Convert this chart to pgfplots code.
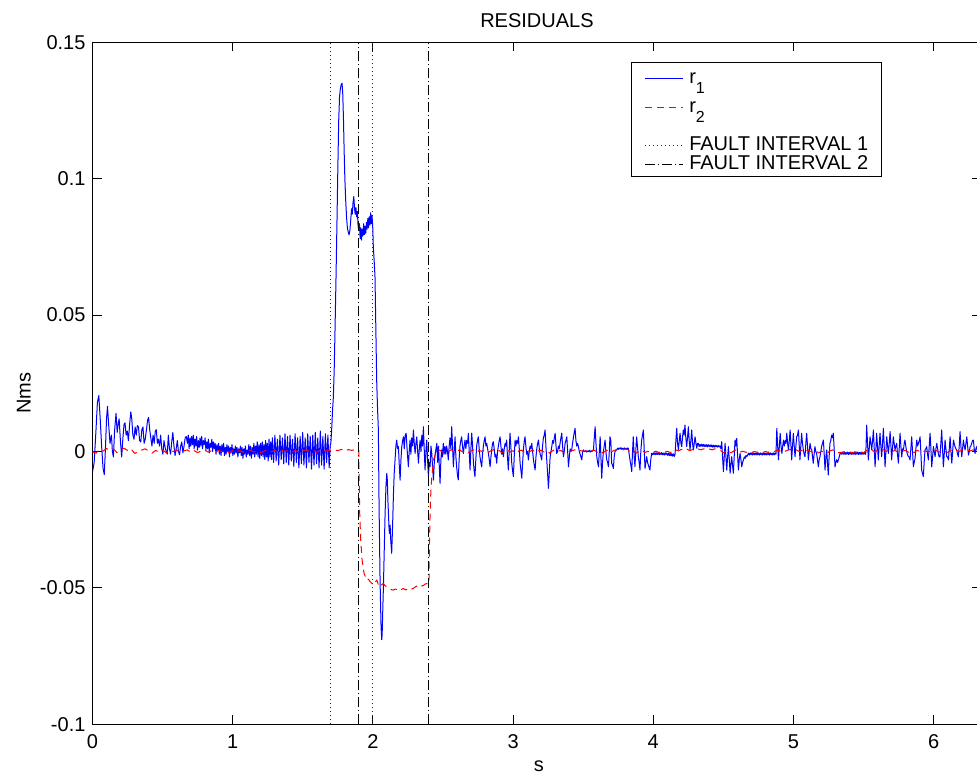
\documentclass[border=0pt]{standalone}
\usepackage{fontspec}
\setmainfont{Liberation Sans}
\usepackage{pgfplots}
\pgfplotsset{compat=1.18}
\begin{document}
\fontsize{10}{12}\selectfont
\begin{tikzpicture}
\begin{axis}[
  scale only axis,
  width=444.43pt, height=341pt,
  xmin=0, xmax=6.34, ymin=-0.1, ymax=0.15,
  xtick={0,1,2,3,4,5,6}, xticklabels={0,1,2,3,4,5,6},
  ytick={-0.1,-0.05,0,0.05,0.1,0.15}, yticklabels={-0.1,-0.05,0,0.05,0.1,0.15},
  tick align=inside, major tick length=4.5pt,
  tick style={black, line width=0.5pt},
  axis line style={black, line width=0.5pt},
  tick label style={font=\fontsize{10}{12}\selectfont},
  xticklabel style={anchor=base, yshift=-11.85pt},
  title={RESIDUALS},
  every axis title/.style={at={(axis description cs:0.5,1.0224)}, anchor=base, font=\fontsize{10}{12}\selectfont},
  xlabel={s},
  every axis x label/.style={at={(axis description cs:0.5023,-0.0699)}, anchor=base, font=\fontsize{10}{12}\selectfont},
  ylabel={Nms},
  every axis y label/.style={at={(axis description cs:-0.0771,0.4858)}, rotate=90, anchor=center, font=\fontsize{10}{12}\selectfont},
  legend style={at={(axis description cs:0.8879,0.9707)}, anchor=north east, draw=black, line width=0.5pt, fill=white,
    inner xsep=6.5pt, inner ysep=0pt, row sep=0pt, column sep=3pt,
    font=\fontsize{10}{12}\selectfont,
    nodes={inner sep=0pt, text depth=}, cells={anchor=base west}},
  legend image code/.code={\draw[#1] (0pt,2.5pt) -- (19pt,2.5pt);},
]
\addplot[color=blue, draw=blue, line width=0.5pt, line join=round, legend image post style={draw=blue}] table {
x y
0.000 -0.0075
0.012 -0.004
0.025 0.008
0.035 0.018
0.045 0.0205
0.055 0.012
0.065 0.002
0.075 -0.006
0.084 -0.0085
0.093 0.002
0.100 0.012
0.107 0.0165
0.115 0.010
0.125 0.003
0.135 0.006
0.142 0.0
0.149 -0.002
0.158 0.008
0.168 0.014
0.176 0.007
0.183 0.010
0.190 0.012
0.199 0.004
0.208 -0.002
0.217 0.005
0.225 0.010
0.232 0.0105
0.240 0.006
0.248 0.0075
0.256 0.004
0.265 0.010
0.273 0.0145
0.280 0.012
0.288 0.006
0.296 0.0045
0.304 0.009
0.312 0.006
0.320 0.0095
0.328 0.009
0.336 0.004
0.344 0.0035
0.352 0.008
0.360 0.009
0.368 0.003
0.376 0.0045
0.385 0.008
0.393 0.0115
0.400 0.0125
0.408 0.008
0.416 0.005
0.424 0.002
0.432 0.006
0.440 0.003
0.448 0.0075
0.455 0.008
0.463 0.003
0.470 0.0045
0.478 0.002
0.486 0.006
0.494 0.001
0.502 -0.001
0.510 0.004
0.518 0.0015
0.526 0.0
0.533 -0.001
0.541 0.006
0.549 0.001
0.557 -0.001
0.565 0.0035
0.573 0.007
0.581 0.002
0.589 -0.0015
0.597 0.001
0.605 0.004
0.613 0.0
0.621 -0.0012
0.629 0.002
0.637 0.0035
0.645 -0.0005
0.653 0.002
0.661 0.005
0.669 0.0055
0.677 0.003
0.683 0.006
0.689 0.001
0.695 0.005
0.701 0.002
0.707 0.0055
0.713 0.0025
0.719 0.006
0.725 0.001
0.731 0.0045
0.737 0.002
0.743 0.0055
0.749 0.0005
0.755 0.004
0.761 0.0015
0.767 0.005
0.773 0.002
0.779 0.0055
0.785 0.001
0.791 0.004
0.797 0.0025
0.803 0.005
0.809 0.0005
0.815 0.0035
0.821 0.001
0.827 0.0045
0.833 -0.0005
0.839 0.003
0.845 0.0015
0.851 0.0045
0.857 0.0
0.863 0.0035
0.869 0.001
0.875 0.003
0.881 -0.001
0.887 0.0025
0.893 0.0005
0.899 0.003
0.905 -0.001
0.911 0.002
0.917 -0.0015
0.923 0.0025
0.929 0.0
0.935 0.003
0.941 -0.0015
0.947 0.0015
0.953 -0.001
0.959 0.0025
0.965 0.0
0.971 0.002
0.977 -0.002
0.983 0.0015
0.989 -0.0005
0.995 0.0025
1.001 -0.0015
1.007 0.001
1.013 -0.001
1.019 0.002
1.025 -0.0005
1.031 0.0015
1.037 -0.002
1.043 0.001
1.049 -0.0005
1.055 0.002
1.061 -0.0015
1.067 0.0015
1.073 -0.0025
1.079 0.001
1.085 -0.001
1.091 0.002
1.097 -0.002
1.103 0.0005
1.109 -0.001
1.115 0.0025
1.121 -0.0015
1.127 0.002
1.133 -0.0025
1.139 0.0015
1.145 -0.001
1.151 0.003
1.157 -0.002
1.163 0.002
1.169 -0.001
1.175 0.0035
1.181 -0.002
1.187 0.0025
1.193 -0.0025
1.199 0.003
1.205 -0.0015
1.211 0.0035
1.217 -0.002
1.223 0.0025
1.229 -0.003
1.235 0.004
1.241 -0.002
1.247 0.003
1.253 -0.0035
1.259 0.0045
1.265 -0.002
1.271 0.0035
1.277 -0.003
1.283 0.005
1.292 -0.004
1.301 0.006
1.310 -0.0035
1.319 0.0045
1.328 -0.005
1.337 0.006
1.346 -0.003
1.355 0.005
1.364 -0.0045
1.373 0.0065
1.382 -0.004
1.391 0.0055
1.400 -0.005
1.409 0.006
1.418 -0.0035
1.427 0.0045
1.436 -0.0055
1.445 0.0065
1.454 -0.004
1.463 0.005
1.472 -0.006
1.481 0.0055
1.490 -0.0045
1.499 0.007
1.508 -0.005
1.517 0.005
1.526 -0.006
1.535 0.0065
1.544 -0.004
1.553 0.0055
1.562 -0.0065
1.571 0.006
1.580 -0.005
1.589 0.007
1.598 -0.0045
1.607 0.005
1.616 -0.006
1.625 0.0075
1.634 -0.005
1.643 0.0055
1.652 -0.0065
1.661 0.0065
1.670 -0.004
1.679 0.006
1.688 -0.006
1.695 0.002
1.700 0.003
1.706 0.008
1.712 0.015
1.718 0.020
1.724 0.030
1.730 0.045
1.737 0.064
1.744 0.085
1.750 0.104
1.756 0.121
1.762 0.130
1.768 0.133
1.774 0.1345
1.780 0.135
1.785 0.131
1.790 0.122
1.795 0.110
1.800 0.100
1.806 0.092
1.812 0.086
1.818 0.082
1.824 0.0805
1.830 0.0794
1.836 0.081
1.842 0.085
1.848 0.089
1.853 0.087
1.858 0.091
1.864 0.0935
1.869 0.089
1.874 0.087
1.879 0.0895
1.884 0.086
1.889 0.088
1.894 0.083
1.899 0.081
1.904 0.0835
1.909 0.078
1.914 0.082
1.919 0.0775
1.924 0.0815
1.929 0.079
1.934 0.0835
1.939 0.0795
1.944 0.0825
1.949 0.080
1.954 0.084
1.959 0.0815
1.964 0.0855
1.969 0.082
1.974 0.086
1.979 0.083
1.984 0.0875
1.989 0.0835
1.994 0.0865
1.999 0.082
2.003 0.075
2.009 0.070
2.015 0.064
2.021 0.045
2.027 0.026
2.033 0.016
2.039 0.008
2.044 -0.020
2.051 -0.047
2.058 -0.064
2.063 -0.069
2.066 -0.067
2.070 -0.059
2.075 -0.0496
2.081 -0.036
2.087 -0.0227
2.093 -0.013
2.099 -0.008
2.103 -0.0105
2.107 -0.018
2.111 -0.0227
2.115 -0.028
2.118 -0.030
2.123 -0.027
2.127 -0.0324
2.134 -0.0373
2.140 -0.028
2.146 -0.0166
2.152 -0.008
2.158 -0.0031
2.164 0.002
2.170 0.0042
2.176 0.001
2.182 0.0018
2.188 -0.005
2.194 -0.0105
2.200 -0.003
2.206 0.0018
2.212 0.004
2.218 0.0054
2.224 0.001
2.230 0.006
2.237 0.0067
2.245 0.000
2.253 -0.0056
2.259 0.000
2.265 0.0042
2.271 -0.001
2.277 0.005
2.283 0.002
2.289 0.0079
2.295 0.003
2.301 -0.0007
2.307 0.003
2.313 0.0054
2.319 0.000
2.325 -0.0043
2.331 0.001
2.337 0.0042
2.343 0.000
2.349 0.006
2.355 0.002
2.360 0.0091
2.366 0.001
2.372 -0.0068
2.378 0.000
2.384 0.0042
2.390 -0.003
2.396 -0.0092
2.402 -0.004
2.408 -0.0056
2.414 0.002
2.420 -0.0007
2.426 -0.006
2.432 -0.0105
2.438 -0.004
2.444 -0.001
2.450 0.001
2.456 0.003
2.462 -0.004
2.468 0.002
2.474 -0.006
2.479 -0.0117
2.485 -0.003
2.490 0.0006
2.496 -0.002
2.502 0.003
2.508 -0.001
2.514 0.0018
2.520 -0.001
2.526 0.002
2.532 0.000
2.538 -0.0031
2.544 0.002
2.550 0.005
2.556 0.001
2.562 0.0091
2.568 0.002
2.574 -0.0056
2.580 0.000
2.586 0.0054
2.592 -0.002
2.598 -0.006
2.604 -0.009
2.609 -0.0104
2.615 -0.003
2.621 0.002
2.627 0.004
2.633 0.0054
2.639 0.002
2.645 -0.0007
2.651 0.002
2.657 0.0042
2.663 0.001
2.669 0.004
2.675 0.003
2.681 0.0067
2.687 0.000
2.693 -0.0068
2.699 0.001
2.705 0.0067
2.711 0.002
2.717 -0.004
2.722 -0.007
2.728 -0.0092
2.734 -0.003
2.740 0.002
2.746 0.004
2.752 0.0054
2.758 0.001
2.764 -0.002
2.770 -0.004
2.776 -0.0056
2.782 -0.001
2.788 0.002
2.794 0.004
2.800 0.0054
2.806 0.002
2.812 0.003
2.818 0.001
2.824 -0.0007
2.830 -0.003
2.836 -0.0056
2.842 -0.002
2.848 0.001
2.854 0.003
2.859 0.0036
2.865 0.001
2.871 -0.002
2.877 -0.001
2.883 -0.0043
2.889 0.000
2.895 0.002
2.901 0.004
2.907 0.0054
2.913 0.002
2.919 -0.001
2.925 0.001
2.931 -0.0019
2.937 0.001
2.943 0.003
2.948 0.002
2.954 0.0042
2.960 -0.002
2.966 -0.0068
2.972 0.000
2.978 0.0067
2.984 0.002
2.990 -0.004
2.996 -0.007
3.002 -0.0092
3.008 -0.002
3.014 0.0042
3.020 0.002
3.026 0.004
3.032 0.003
3.038 0.0054
3.044 0.001
3.050 -0.0043
3.056 -0.007
3.062 -0.0098
3.068 -0.004
3.074 0.001
3.080 0.004
3.085 0.0054
3.091 0.002
3.097 -0.001
3.103 0.000
3.109 -0.0031
3.115 0.000
3.121 0.002
3.127 0.001
3.133 0.003
3.139 0.000
3.145 -0.003
3.151 -0.005
3.157 -0.0068
3.163 -0.002
3.169 0.001
3.175 0.003
3.181 0.0042
3.187 0.001
3.193 -0.001
3.199 -0.002
3.204 -0.0031
3.210 0.002
3.216 0.005
3.222 0.006
3.228 0.0079
3.234 0.002
3.240 -0.0031
3.246 -0.008
3.252 -0.0135
3.258 -0.008
3.264 -0.002
3.270 0.000
3.276 0.0018
3.282 0.004
3.288 0.003
3.294 0.005
3.300 0.0067
3.306 0.002
3.311 -0.0007
3.317 0.000
3.323 0.002
3.329 0.001
3.335 0.003
3.341 0.005
3.347 0.0067
3.353 0.002
3.359 -0.0019
3.365 0.000
3.371 0.003
3.377 0.004
3.383 0.0054
3.389 0.000
3.395 -0.0056
3.401 -0.002
3.407 0.001
3.412 0.000
3.418 0.0006
3.424 0.003
3.430 0.005
3.436 0.007
3.442 0.0085
3.448 0.004
3.454 0.002
3.460 0.003
3.466 0.0018
3.472 0.000
3.478 -0.001
3.484 -0.002
3.490 -0.0031
3.496 0.000
3.502 0.0006
3.508 0.000
3.513 0.000
3.520 0.0003
3.526 -0.0002
3.532 0.0002
3.537 0.000
3.544 0.0004
3.550 -0.0002
3.556 0.0003
3.562 0.000
3.568 0.0004
3.573 0.0006
3.579 0.005
3.585 0.0091
3.591 0.003
3.597 -0.002
3.603 -0.004
3.609 -0.0056
3.615 0.000
3.621 0.0054
3.627 -0.003
3.632 -0.0098
3.638 -0.004
3.644 0.000
3.650 0.002
3.656 0.0042
3.662 0.000
3.668 -0.003
3.674 -0.004
3.680 -0.0056
3.686 0.000
3.691 0.0054
3.697 0.004
3.703 -0.0043
3.709 -0.005
3.715 -0.0062
3.721 -0.002
3.727 0.000
3.733 0.0004
3.739 0.0006
3.745 0.0012
3.751 0.0008
3.757 0.0013
3.763 0.0009
3.769 0.0014
3.775 0.0008
3.781 0.0012
3.787 0.0007
3.793 0.0013
3.799 0.0009
3.805 0.0012
3.811 0.0008
3.817 0.0013
3.822 0.0012
3.828 -0.001
3.834 -0.0031
3.840 -0.005
3.846 -0.0074
3.852 0.000
3.857 0.0054
3.863 -0.001
3.869 -0.0056
3.875 0.000
3.881 0.0054
3.887 0.002
3.893 -0.0019
3.899 -0.004
3.905 -0.0068
3.911 0.000
3.917 0.0042
3.923 0.006
3.929 0.0079
3.935 0.001
3.941 -0.0062
3.947 -0.004
3.953 -0.0019
3.959 -0.004
3.965 -0.005
3.971 -0.006
3.976 -0.0068
3.982 -0.003
3.988 -0.0007
3.994 -0.0012
4.000 -0.0005
4.006 -0.0011
4.012 -0.0004
4.018 -0.0012
4.024 -0.0005
4.030 -0.0011
4.036 -0.0004
4.042 -0.0012
4.048 -0.0006
4.054 -0.0011
4.060 -0.0004
4.066 -0.0012
4.072 -0.0006
4.078 -0.0013
4.084 -0.0005
4.090 -0.0012
4.096 -0.0006
4.102 -0.0014
4.108 -0.0006
4.114 -0.0015
4.120 -0.0007
4.126 -0.0016
4.132 -0.0008
4.138 -0.0017
4.144 -0.0009
4.150 -0.0018
4.155 -0.001
4.161 0.004
4.167 0.0085
4.173 0.003
4.179 0.0006
4.185 0.004
4.191 0.0067
4.197 0.003
4.203 0.0018
4.208 0.005
4.214 0.0079
4.220 0.006
4.226 0.0097
4.232 0.005
4.238 0.0018
4.244 0.005
4.250 0.0091
4.256 0.004
4.262 0.0006
4.268 0.004
4.274 0.0079
4.280 0.003
4.286 0.0006
4.292 0.003
4.298 0.0054
4.304 0.003
4.310 0.0012
4.316 0.003
4.321 0.003
4.327 0.0018
4.333 0.0026
4.339 0.0019
4.345 0.0027
4.351 0.0019
4.357 0.0026
4.363 0.0018
4.369 0.0025
4.375 0.0018
4.381 0.0025
4.387 0.0017
4.393 0.0025
4.399 0.0018
4.405 0.0024
4.411 0.0017
4.417 0.0024
4.423 0.0016
4.429 0.0023
4.435 0.0016
4.441 0.0023
4.447 0.0017
4.453 0.0022
4.459 0.0016
4.465 0.0022
4.471 0.0017
4.476 0.002
4.482 0.001
4.488 0.0036
4.494 -0.002
4.500 -0.0074
4.506 -0.002
4.512 0.003
4.518 -0.002
4.524 -0.0068
4.530 -0.002
4.536 0.0018
4.542 -0.003
4.548 -0.008
4.553 -0.005
4.559 -0.0019
4.565 -0.005
4.571 -0.008
4.577 -0.002
4.583 0.0042
4.589 0.002
4.595 0.0048
4.601 -0.001
4.607 -0.0068
4.613 -0.003
4.619 -0.0007
4.625 -0.003
4.631 -0.0056
4.637 -0.004
4.643 -0.0031
4.649 -0.002
4.655 -0.0025
4.661 -0.0015
4.667 -0.0019
4.673 -0.0013
4.679 -0.0006
4.685 -0.0013
4.691 -0.0005
4.697 -0.0012
4.703 -0.0006
4.709 -0.0013
4.715 -0.0005
4.721 -0.0012
4.727 -0.0006
4.733 -0.0013
4.739 -0.0005
4.745 -0.0012
4.751 -0.0006
4.757 -0.0013
4.763 -0.0005
4.769 -0.0012
4.775 -0.0006
4.781 -0.0013
4.787 -0.0005
4.793 -0.0012
4.799 -0.0006
4.805 -0.0013
4.811 -0.0005
4.817 -0.0012
4.823 -0.0006
4.829 -0.0013
4.835 -0.0005
4.841 -0.0012
4.847 -0.0006
4.853 -0.0013
4.859 -0.0005
4.865 -0.0012
4.870 -0.0006
4.875 -0.001
4.881 0.0085
4.887 0.002
4.893 -0.0031
4.899 0.002
4.905 0.0067
4.911 0.002
4.917 -0.0007
4.923 0.002
4.929 0.0042
4.935 0.002
4.941 0.004
4.946 0.003
4.952 0.0067
4.958 0.003
4.964 0.0006
4.970 0.004
4.976 0.0079
4.982 0.002
4.987 -0.0031
4.993 0.002
4.999 0.0067
5.005 0.002
5.011 -0.0019
5.017 0.002
5.023 0.0054
5.029 0.006
5.035 0.0079
5.041 0.002
5.046 -0.0031
5.052 0.002
5.058 0.0067
5.064 0.003
5.070 0.0006
5.076 -0.001
5.082 -0.0019
5.088 0.003
5.094 0.0067
5.100 0.002
5.106 -0.0031
5.112 0.000
5.118 0.003
5.124 0.001
5.130 0.0006
5.136 -0.002
5.141 -0.0043
5.147 -0.001
5.153 0.0018
5.159 0.000
5.165 -0.0007
5.171 -0.003
5.177 -0.0056
5.183 -0.003
5.189 -0.0019
5.195 0.000
5.201 0.002
5.207 0.003
5.213 0.0042
5.219 -0.001
5.225 -0.0068
5.231 -0.002
5.237 0.0006
5.242 -0.004
5.248 -0.0086
5.254 -0.002
5.260 0.003
5.266 0.004
5.272 0.006
5.278 0.005
5.284 0.0067
5.290 0.001
5.296 -0.0056
5.302 -0.004
5.308 -0.003
5.314 -0.004
5.320 -0.0031
5.326 -0.002
5.332 -0.0007
5.338 -0.0008
5.344 -0.001
5.350 -0.0003
5.356 -0.001
5.362 -0.0002
5.368 -0.0011
5.374 -0.0003
5.380 -0.001
5.386 -0.0002
5.392 -0.0011
5.398 -0.0003
5.404 -0.001
5.410 -0.0002
5.416 -0.0011
5.422 -0.0003
5.428 -0.001
5.434 -0.0002
5.440 -0.0011
5.446 -0.0003
5.452 -0.001
5.458 -0.0002
5.464 -0.0011
5.470 -0.0003
5.476 -0.001
5.482 -0.0002
5.488 -0.0011
5.494 -0.0003
5.500 -0.001
5.506 -0.0002
5.512 -0.0011
5.516 -0.0005
5.522 0.0097
5.528 0.003
5.534 -0.0031
5.540 0.001
5.546 0.0054
5.552 0.003
5.558 0.0006
5.564 0.004
5.570 0.0079
5.576 0.001
5.582 -0.0056
5.588 0.001
5.593 0.0067
5.599 0.002
5.605 -0.0031
5.611 0.002
5.617 0.0067
5.623 0.002
5.629 -0.0019
5.635 0.003
5.641 0.0085
5.647 0.002
5.653 -0.0056
5.659 0.000
5.665 0.0054
5.671 0.002
5.677 -0.0007
5.683 0.003
5.689 0.0073
5.695 0.002
5.700 -0.0031
5.706 0.001
5.712 0.0054
5.718 0.003
5.724 0.0006
5.730 0.002
5.736 0.003
5.742 -0.001
5.748 -0.0043
5.754 0.001
5.760 0.0067
5.766 0.002
5.772 -0.002
5.778 0.001
5.784 0.0006
5.790 0.003
5.795 0.0042
5.801 0.002
5.807 0.000
5.813 -0.001
5.819 -0.0019
5.825 -0.002
5.831 -0.0031
5.837 0.001
5.843 0.0054
5.849 0.000
5.855 -0.0056
5.861 -0.004
5.867 -0.0025
5.873 0.001
5.879 0.0042
5.885 0.002
5.891 0.003
5.897 0.004
5.903 0.0054
5.909 -0.001
5.914 -0.0068
5.920 -0.008
5.926 -0.0092
5.932 -0.004
5.938 0.0006
5.944 0.001
5.950 0.0018
5.956 -0.001
5.962 -0.0031
5.968 0.002
5.974 0.0067
5.980 0.001
5.986 -0.0056
5.992 -0.002
5.998 0.0018
6.004 0.000
6.010 -0.0019
6.016 0.001
6.022 0.003
6.028 0.001
6.034 -0.001
6.039 -0.002
6.045 -0.0019
6.051 0.003
6.057 0.0079
6.063 0.001
6.069 -0.0056
6.075 -0.001
6.081 0.0042
6.087 0.001
6.093 -0.0019
6.099 -0.002
6.105 -0.0031
6.111 0.001
6.117 0.0054
6.123 0.000
6.129 -0.0043
6.135 0.000
6.141 0.0042
6.146 0.003
6.152 0.0018
6.158 0.001
6.164 0.0006
6.170 -0.001
6.176 -0.0019
6.182 0.002
6.188 0.0073
6.194 0.002
6.200 -0.0019
6.206 0.001
6.212 0.0042
6.218 0.002
6.224 0.0006
6.230 0.003
6.236 0.0054
6.242 0.002
6.248 -0.0013
6.254 0.000
6.260 0.0018
6.265 0.002
6.271 0.003
6.277 0.004
6.283 0.0042
6.289 0.001
6.295 -0.0007
6.301 0.001
6.307 0.0018
6.313 0.000
6.319 -0.002
6.325 0.003
6.331 -0.001
6.340 0.002
};
\addlegendentry{r\raisebox{-5pt}{\fontsize{8}{8}\selectfont 1}\rule[-5pt]{0pt}{15.5pt}}
\addplot[color=red, draw=red, line width=0.5pt, line join=round, dash pattern=on 3.5pt off 2.5pt, legend image post style={draw=red}] table {
x y
0.000 0.0000
0.025 -0.0006
0.050 0.0008
0.075 0.0001
0.100 0.0011
0.125 0.0003
0.150 0.0009
0.175 -0.0004
0.200 0.0006
0.225 0.0012
0.250 0.0004
0.275 0.0010
0.300 -0.0007
0.325 -0.0001
0.350 0.0005
0.375 0.0010
0.400 0.0002
0.425 -0.0006
0.450 0.0004
0.475 -0.0002
0.500 0.0006
0.525 -0.0004
0.550 0.0003
0.575 0.0000
0.600 0.0005
0.625 -0.0003
0.650 0.0002
0.675 0.0006
0.700 -0.0002
0.725 0.0003
0.750 -0.0004
0.775 0.0002
0.800 0.0005
0.825 -0.0002
0.850 0.0003
0.875 -0.0003
0.900 0.0004
0.925 -0.0001
0.950 0.0002
0.975 -0.0004
1.000 0.0003
1.025 -0.0002
1.050 0.0004
1.075 -0.0003
1.100 0.0002
1.125 0.0005
1.150 -0.0002
1.175 0.0003
1.200 -0.0004
1.225 0.0002
1.250 0.0006
1.275 -0.0001
1.300 0.0004
1.325 -0.0003
1.350 0.0005
1.375 0.0000
1.400 0.0006
1.425 -0.0002
1.450 0.0004
1.475 -0.0004
1.500 0.0003
1.525 0.0006
1.550 -0.0001
1.575 0.0004
1.600 -0.0003
1.625 0.0005
1.650 0.0001
1.675 0.0006
1.700 0.0002
1.725 0.0006
1.750 0.0003
1.775 0.0008
1.800 0.0002
1.825 0.0007
1.850 0.0004
1.875 0.0008
1.895 0.0005
1.899 0.0005
1.902 -0.0104
1.906 -0.0227
1.913 -0.0324
1.923 -0.0398
1.937 -0.0447
1.956 -0.0471
1.968 -0.0468
1.980 -0.0477
1.992 -0.0483
2.004 -0.0489
2.016 -0.0480
2.028 -0.0471
2.040 -0.0490
2.051 -0.0496
2.063 -0.0488
2.075 -0.0484
2.087 -0.0492
2.099 -0.0496
2.111 -0.0500
2.122 -0.0502
2.134 -0.0507
2.146 -0.0508
2.158 -0.0504
2.170 -0.0506
2.182 -0.0511
2.194 -0.0510
2.206 -0.0505
2.218 -0.0502
2.230 -0.0507
2.241 -0.0506
2.253 -0.0501
2.265 -0.0499
2.277 -0.0504
2.289 -0.0502
2.301 -0.0497
2.313 -0.0493
2.325 -0.0495
2.337 -0.0489
2.349 -0.0493
2.360 -0.0491
2.372 -0.0486
2.384 -0.0484
2.392 -0.0488
2.398 -0.0482
2.400 -0.0471
2.403 -0.0349
2.408 -0.0227
2.413 -0.0153
2.420 -0.0092
2.432 -0.0031
2.444 -0.0013
2.456 0.0000
2.468 0.0006
2.479 0.0004
2.500 -0.0003
2.520 0.0005
2.540 0.0000
2.560 0.0007
2.580 -0.0004
2.600 0.0003
2.620 0.0006
2.640 -0.0002
2.660 0.0004
2.680 -0.0005
2.700 0.0002
2.720 0.0006
2.740 -0.0003
2.760 0.0004
2.780 0.0000
2.800 0.0005
2.820 -0.0004
2.840 0.0002
2.860 0.0007
2.880 -0.0001
2.900 0.0004
2.920 -0.0005
2.940 0.0003
2.960 0.0006
2.980 -0.0002
3.000 0.0003
3.020 -0.0006
3.040 0.0002
3.060 0.0005
3.080 -0.0003
3.100 0.0004
3.120 0.0000
3.140 0.0006
3.160 -0.0004
3.180 0.0002
3.200 0.0005
3.220 -0.0002
3.240 0.0003
3.260 -0.0006
3.280 0.0002
3.300 0.0007
3.320 0.0001
3.340 0.0004
3.360 -0.0003
3.380 0.0005
3.400 -0.0001
3.420 0.0003
3.440 0.0006
3.460 0.0000
3.480 0.0003
3.500 0.0001
3.520 0.0002
3.540 0.0000
3.560 0.0002
3.580 0.0005
3.600 -0.0003
3.620 0.0004
3.640 -0.0005
3.660 0.0002
3.680 0.0006
3.700 -0.0002
3.720 0.0004
3.740 0.0007
3.760 0.0009
3.780 0.0006
3.800 0.0009
3.820 0.0007
3.840 -0.0004
3.860 0.0003
3.880 -0.0006
3.900 0.0002
3.920 0.0005
3.940 -0.0004
3.960 0.0001
3.980 -0.0003
4.000 -0.0002
4.020 0.0001
4.040 -0.0004
4.060 0.0000
4.080 -0.0003
4.100 0.0001
4.120 -0.0004
4.140 0.0000
4.160 0.0006
4.180 0.0002
4.200 0.0008
4.220 0.0004
4.240 0.0009
4.260 0.0003
4.280 0.0007
4.300 0.0005
4.320 0.0009
4.340 0.0006
4.360 0.0010
4.380 0.0005
4.400 0.0009
4.420 0.0006
4.440 0.0010
4.460 0.0007
4.480 0.0004
4.500 -0.0005
4.520 0.0002
4.540 -0.0006
4.560 -0.0003
4.580 0.0004
4.600 0.0008
4.620 -0.0002
4.640 0.0001
4.660 -0.0003
4.680 -0.0001
4.700 -0.0004
4.720 0.0000
4.740 -0.0003
4.760 0.0001
4.780 -0.0004
4.800 0.0000
4.820 -0.0003
4.840 0.0001
4.860 -0.0002
4.880 0.0005
4.900 0.0002
4.920 0.0006
4.940 0.0001
4.960 0.0005
4.980 0.0008
5.000 0.0003
5.020 0.0006
5.040 0.0000
5.060 0.0004
5.080 -0.0003
5.100 0.0005
5.120 0.0001
5.140 -0.0004
5.160 0.0002
5.180 -0.0005
5.200 0.0001
5.220 -0.0003
5.240 -0.0006
5.260 0.0002
5.280 0.0006
5.300 -0.0002
5.320 -0.0004
5.340 -0.0003
5.360 -0.0001
5.380 -0.0004
5.400 -0.0002
5.420 -0.0005
5.440 -0.0001
5.460 -0.0004
5.480 -0.0002
5.500 -0.0005
5.520 0.0004
5.540 0.0000
5.560 0.0006
5.580 -0.0002
5.600 0.0005
5.620 0.0002
5.640 0.0007
5.660 0.0000
5.680 0.0005
5.700 -0.0002
5.720 0.0004
5.740 -0.0001
5.760 0.0006
5.780 0.0002
5.800 0.0004
5.820 -0.0003
5.840 0.0003
5.860 -0.0004
5.880 0.0004
5.900 0.0001
5.920 -0.0005
5.940 0.0002
5.960 -0.0002
5.980 0.0004
6.000 0.0000
6.020 0.0003
6.040 -0.0002
6.060 0.0005
6.080 0.0001
6.100 -0.0003
6.120 0.0004
6.140 0.0002
6.160 0.0005
6.180 0.0000
6.200 0.0004
6.220 0.0001
6.240 0.0005
6.260 0.0002
6.280 0.0006
6.300 0.0001
6.320 0.0003
6.340 0.0000
};
\addlegendentry{r\raisebox{-5pt}{\fontsize{8}{8}\selectfont 2}\rule[-5pt]{0pt}{14.2pt}}
\addplot[color=black!85, draw=black!85, line width=0.5pt, dash pattern=on 0.5pt off 1.5pt] coordinates {(1.7,-0.1) (1.7,0.15)};
\addlegendentry{FAULT INTERVAL 1\rule{0pt}{14.15pt}}
\addplot[color=black!85, draw=black!85, line width=0.5pt, dash pattern=on 0.5pt off 1.5pt, forget plot] coordinates {(2.0,-0.1) (2.0,0.15)};
\addplot[color=black, draw=black, line width=0.5pt, dash pattern=on 5pt off 1.5pt on 0.5pt off 1.5pt] coordinates {(1.9,-0.1) (1.9,0.15)};
\addlegendentry{FAULT INTERVAL 2\rule[-3.35pt]{0pt}{12.85pt}}
\addplot[color=black, draw=black, line width=0.5pt, dash pattern=on 5pt off 1.5pt on 0.5pt off 1.5pt, forget plot] coordinates {(2.4,-0.1) (2.4,0.15)};
\end{axis}
\pgfresetboundingbox
\useasboundingbox (-46.25pt,-25.85pt) rectangle (442.25pt,362.15pt);
\end{tikzpicture}
\end{document}
